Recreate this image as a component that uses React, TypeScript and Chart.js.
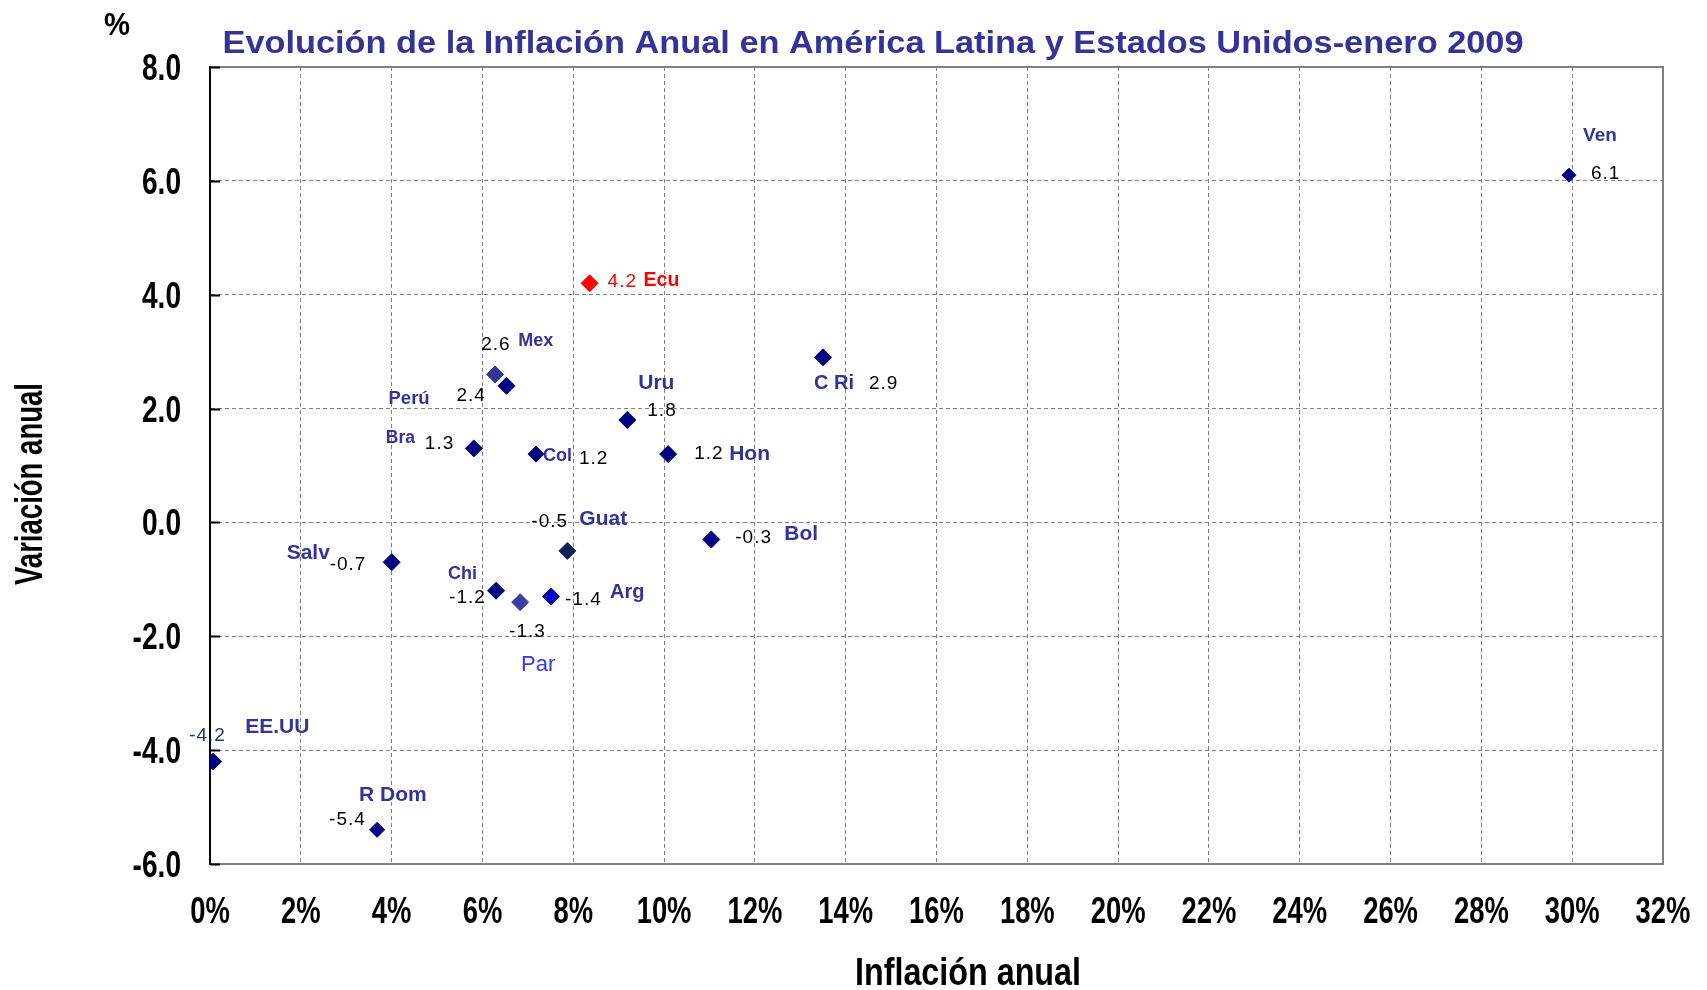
import React, { useEffect, useRef } from 'react';
import { Chart, registerables } from 'chart.js';

Chart.register(...registerables);

// ---- Data ----
const countries = ['EE.UU', 'R Dom', 'Salv', 'Chi', 'Par', 'Arg', 'Guat', 'Bol', 'Col', 'Bra', 'Mex', 'Perú', 'Uru', 'Hon', 'Ecu', 'C Ri', 'Ven'];
const inflation = [0.07, 3.68, 4.0, 6.3, 6.83, 7.51, 7.87, 11.04, 7.18, 5.81, 6.28, 6.53, 9.19, 10.09, 8.36, 13.5, 29.93];
const variation = [-4.2, -5.4, -0.7, -1.2, -1.4, -1.3, -0.5, -0.3, 1.2, 1.3, 2.6, 2.4, 1.8, 1.2, 4.2, 2.9, 6.1];
const valueLabels = ['-4.2', '-5.4', '-0.7', '-1.2', '-1.3', '-1.4', '-0.5', '-0.3', '1.2', '1.3', '2.6', '2.4', '1.8', '1.2', '4.2', '2.9', '6.1'];
const xTickValues = [0, 2, 4, 6, 8, 10, 12, 14, 16, 18, 20, 22, 24, 26, 28, 30, 32];
const yTickValues = [-6, -4, -2, 0, 2, 4, 6, 8];

const titleText = 'Evolución de la Inflación Anual en América Latina y Estados Unidos-enero 2009';
const xTitleText = 'Inflación anual';
const yTitleText = 'Variación anual';
const unitText = '%';

// ---- Styles ----
const NAVY = '#000080';
const LABEL_BLUE = '#333399';
const pointFill: Record<string, string> = { Mex: '#34349a', Par: '#3d3da6', Guat: '#0b2457', Arg: '#0000cc', Ecu: '#ff0000' };
const pointEdge: Record<string, string> = { Mex: '#34349a', Par: '#3d3da6', Guat: '#1a2a6a', Arg: '#000040', Ecu: '#ff0000' };
const pointSize: Record<string, number> = { Ven: 7, 'R Dom': 7.5, Col: 8 };

type NameStyle = { dx: number; dy: number; size: number; weight?: string; color?: string };
type ValStyle = { dx: number; dy: number; color?: string };
const nameLayout: Record<string, NameStyle> = {
  'EE.UU': { dx: 32, dy: -34, size: 21 },
  'R Dom': { dx: -18, dy: -35, size: 21 },
  Salv: { dx: -105, dy: -9, size: 21 },
  Chi: { dx: -48, dy: -17, size: 18 },
  Par: { dx: 1, dy: 63, size: 22, weight: 'normal', color: '#3333ff' },
  Arg: { dx: 59, dy: -4, size: 20 },
  Guat: { dx: 12, dy: -32, size: 21 },
  Bol: { dx: 73, dy: -5, size: 21 },
  Col: { dx: 7, dy: 2, size: 18 },
  Bra: { dx: -88, dy: -10, size: 17.5 },
  Mex: { dx: 23, dy: -33, size: 18 },
  'Perú': { dx: -118, dy: 13, size: 18.5 },
  Uru: { dx: 11, dy: -37, size: 21 },
  Hon: { dx: 61, dy: 0, size: 21 },
  Ecu: { dx: 54, dy: -3, size: 19.5, color: '#ff0000' },
  'C Ri': { dx: -9, dy: 26, size: 20 },
  Ven: { dx: 14, dy: -39, size: 19 },
};
const valueLayout: Record<string, ValStyle> = {
  'EE.UU': { dx: -24, dy: -26, color: '#1f3864' },
  'R Dom': { dx: -48, dy: -10 },
  Salv: { dx: -62, dy: 2 },
  Chi: { dx: -47, dy: 7 },
  Par: { dx: -11, dy: 30 },
  Arg: { dx: 14, dy: 3 },
  Guat: { dx: -36, dy: -29 },
  Bol: { dx: 24, dy: -2 },
  Col: { dx: 43, dy: 5 },
  Bra: { dx: -49, dy: -5 },
  Mex: { dx: -14, dy: -30 },
  'Perú': { dx: -50, dy: 10 },
  Uru: { dx: 20, dy: -9 },
  Hon: { dx: 26, dy: 0 },
  Ecu: { dx: 18, dy: -2, color: '#ff0000' },
  'C Ri': { dx: 46, dy: 26 },
  Ven: { dx: 22, dy: -1 },
};

const SANS = "'Liberation Sans', Arial, sans-serif";

function fitText(ctx: CanvasRenderingContext2D, text: string, x: number, y: number, width: number, font: string, color: string, rotate = 0) {
  ctx.save();
  ctx.font = font;
  ctx.fillStyle = color;
  ctx.textAlign = 'center';
  ctx.textBaseline = 'alphabetic';
  const w = ctx.measureText(text).width;
  ctx.translate(x, y);
  if (rotate) ctx.rotate(rotate);
  ctx.scale(width / w, 1);
  ctx.fillText(text, 0, 0);
  ctx.restore();
}

function squeezedText(ctx: CanvasRenderingContext2D, text: string, x: number, y: number, sx: number, align: 'left' | 'right' | 'center', font: string) {
  ctx.save();
  ctx.font = font;
  ctx.fillStyle = '#000000';
  ctx.textAlign = align;
  ctx.textBaseline = 'alphabetic';
  ctx.translate(x, y);
  ctx.scale(sx, 1);
  ctx.fillText(text, 0, 0);
  ctx.restore();
}

const decorPlugin = {
  id: 'decor',
  beforeDraw(chart: any) {
    const { ctx, width, height } = chart;
    ctx.save();
    ctx.fillStyle = '#ffffff';
    ctx.fillRect(0, 0, width, height);
    ctx.restore();
  },
  beforeDatasetsDraw(chart: any) {
    const { ctx, chartArea: a } = chart;
    ctx.save();
    ctx.strokeStyle = '#808080';
    ctx.lineWidth = 2;
    ctx.beginPath();
    ctx.moveTo(a.left, a.top);
    ctx.lineTo(a.right, a.top);
    ctx.lineTo(a.right, a.bottom);
    ctx.stroke();
    const ys = chart.scales.y;
    ctx.strokeStyle = '#000000';
    ctx.lineWidth = 2;
    ys.ticks.forEach((t: any) => {
      const py = Math.round(ys.getPixelForValue(t.value)) + 0.5;
      ctx.beginPath();
      ctx.moveTo(a.left, py);
      ctx.lineTo(a.left + 10, py);
      ctx.stroke();
    });
    ctx.restore();
  },
  afterDatasetsDraw(chart: any) {
    const { ctx } = chart;
    const meta = chart.getDatasetMeta(0);
    ctx.save();
    ctx.textAlign = 'left';
    ctx.textBaseline = 'middle';
    meta.data.forEach((pt: any, i: number) => {
      const c = countries[i];
      const v = valueLayout[c];
      ctx.font = `normal 19px ${SANS}`;
      (ctx as any).letterSpacing = '1px';
      ctx.fillStyle = v.color || '#000000';
      ctx.fillText(valueLabels[i], pt.x + v.dx, pt.y + v.dy);
      const n = nameLayout[c];
      (ctx as any).letterSpacing = '0px';
      ctx.font = `${n.weight || 'bold'} ${n.size}px ${SANS}`;
      ctx.fillStyle = n.color || LABEL_BLUE;
      ctx.fillText(c, pt.x + n.dx, pt.y + n.dy);
    });
    ctx.restore();
  },
  afterDraw(chart: any) {
    const { ctx, chartArea: a } = chart;
    // tick labels, placed through the chart's own scales
    const xs = chart.scales.x;
    const ys = chart.scales.y;
    xTickValues.forEach((v) => {
      squeezedText(ctx, `${v}%`, xs.getPixelForValue(v), 923, 0.74, 'center', `bold 37px ${SANS}`);
    });
    yTickValues.forEach((v) => {
      squeezedText(ctx, v.toFixed(1), a.left - 29, ys.getPixelForValue(v) + 13, 0.78, 'right', `bold 36px ${SANS}`);
    });
    fitText(ctx, titleText, 873, 53, 1301, `bold 31px ${SANS}`, LABEL_BLUE);
    fitText(ctx, xTitleText, 968, 985, 226, `bold 39px ${SANS}`, '#000000');
    fitText(ctx, yTitleText, 42, 484, 202, `bold 39px ${SANS}`, '#000000', -Math.PI / 2);
    fitText(ctx, unitText, 117, 35, 26, `bold 32px ${SANS}`, '#000000');
  },
};

export default function App() {
  const canvasRef = useRef<HTMLCanvasElement | null>(null);

  useEffect(() => {
    const canvas = canvasRef.current;
    if (!canvas) return;
    const points = inflation.map((x, i) => ({ x, y: variation[i] }));
    const chart = new Chart(canvas, {
      type: 'scatter',
      data: {
        datasets: [
          {
            label: 'Inflación',
            data: points,
            pointStyle: 'rectRot',
            pointRadius: countries.map((c) => pointSize[c] ?? 8.5),
            pointHoverRadius: countries.map((c) => pointSize[c] ?? 8.5),
            pointBackgroundColor: countries.map((c) => pointFill[c] || NAVY),
            pointBorderColor: countries.map((c) => pointEdge[c] || NAVY),
            pointBorderWidth: 1,
            showLine: false,
          },
        ],
      },
      options: {
        responsive: false,
        animation: false,
        events: [],
        layout: { padding: { top: 67, right: 44, left: 0, bottom: 0 } },
        plugins: {
          legend: { display: false },
          tooltip: { enabled: false },
          title: { display: false },
        },
        scales: {
          x: {
            type: 'linear',
            min: 0,
            max: 32,
            afterBuildTicks: (scale: any) => {
              scale.ticks = xTickValues.map((v) => ({ value: v }));
            },
            afterFit: (scale: any) => {
              scale.height = 126;
              scale.paddingLeft = 0;
              scale.paddingRight = 0;
            },
            ticks: { display: false, autoSkip: false },
            grid: { color: '#808080', lineWidth: 1, drawTicks: false },
            border: { color: '#808080', width: 2, dash: [4, 3] },
          },
          y: {
            type: 'linear',
            min: -6,
            max: 8,
            afterBuildTicks: (scale: any) => {
              scale.ticks = yTickValues.map((v) => ({ value: v }));
            },
            afterFit: (scale: any) => {
              scale.width = 210;
              scale.paddingTop = 0;
              scale.paddingBottom = 0;
            },
            ticks: { display: false, autoSkip: false },
            grid: { color: '#808080', lineWidth: 1, drawTicks: false },
            border: { color: '#000000', width: 2, dash: [4, 3] },
          },
        },
      },
      plugins: [decorPlugin],
    });
    return () => chart.destroy();
  }, []);

  return (
    <div style={{ position: 'fixed', left: 0, top: 0, width: 1707, height: 990, background: '#fff' }}>
      <canvas ref={canvasRef} width={1707} height={990} style={{ display: 'block', width: 1707, height: 990 }} />
    </div>
  );
}
